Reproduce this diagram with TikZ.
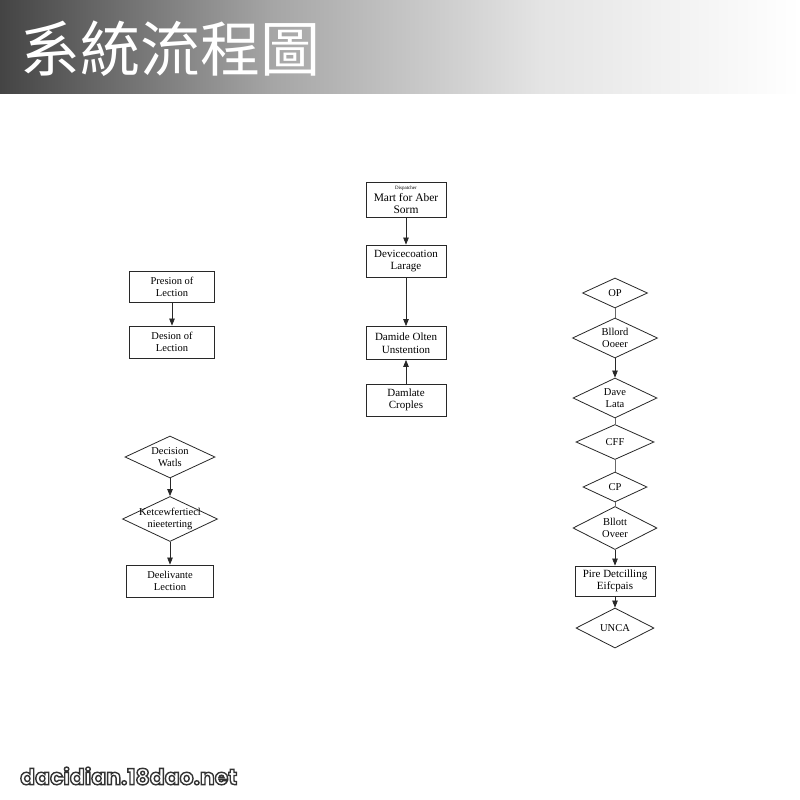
\documentclass[tikz,border=0pt]{standalone}
\usepackage{fontspec}
\setmainfont{Liberation Serif}
\newfontfamily\cjkfont{Noto Sans CJK TC}
\newfontfamily\wmfont{Poppins}
\usetikzlibrary{shapes.geometric,arrows.meta}
\definecolor{hA}{RGB}{68,68,68}
\definecolor{hB}{RGB}{165,165,165}
\definecolor{hC}{RGB}{228,228,228}
\definecolor{lnc}{RGB}{40,40,40}
\tikzset{
  box/.style={draw=lnc, line width=0.8pt, rectangle, inner sep=0pt, align=center,
    font=\fontsize{10.5}{12.5}\selectfont},
  dia/.style={draw=lnc, line width=0.8pt, diamond, inner sep=0pt},
  lbl/.style={align=center, font=\fontsize{10.5}{12.5}\selectfont, inner sep=0pt},
  arr/.style={draw=lnc, line width=0.7pt, -{Triangle[length=7pt,width=5.5pt]}},
  ln/.style={draw=lnc!70, line width=0.7pt},
  wm/.style={font=\wmfont\bfseries\fontsize{22}{22}\selectfont, anchor=west, inner sep=0pt}
}
\begin{document}
\begin{tikzpicture}[x=1pt,y=-1pt]
\useasboundingbox (0,0) rectangle (800,800);
\fill[white] (0,0) rectangle (800,800);
% header band
\shade[left color=hA, right color=hB, draw=none] (0,0) rectangle (271,93);
\shade[left color=hB, right color=hC, draw=none] (270,0) rectangle (541,93);
\shade[left color=hC, right color=white, draw=none] (540,0) rectangle (800,93);
\node[font=\cjkfont\fontsize{60}{60}\selectfont, text=white, anchor=west, inner sep=0pt] (title) at (20,49) {系統流程圖};

% middle column
\node[box, minimum width=80pt, minimum height=35pt] (m1) at (406,200)
  {{\fontsize{5}{6}\selectfont Dispatcher}\\[-1pt]\fontsize{11.5}{12}\selectfont Mart for Aber\\\fontsize{11.5}{12}\selectfont Sorm};
\node[box, minimum width=80pt, minimum height=32pt, font=\fontsize{11}{12.5}\selectfont] (m2) at (406,261) {Devicecoation\\Larage};
\node[box, minimum width=80pt, minimum height=33pt, font=\fontsize{11}{12.5}\selectfont] (m3) at (406,343) {Damide Olten\\Unstention};
\node[box, minimum width=80pt, minimum height=32pt, font=\fontsize{11}{12.5}\selectfont] (m4) at (406,400) {Damlate\\Croples};
\draw[arr] (m1) -- (m2);
\draw[arr] (m2) -- (m3);
\draw[arr] (m4) -- (m3);

% left column
\node[box, minimum width=85pt, minimum height=31pt] (l1) at (172,287) {Presion of\\Lection};
\node[box, minimum width=85pt, minimum height=32pt] (l2) at (172,342) {Desion of\\Lection};
\draw[arr] (l1) -- (l2);
\node[dia, minimum width=90pt, minimum height=42pt, label={[lbl]center:Decision\\Watls}] (l3) at (170,457) {};
\node[dia, minimum width=95pt, minimum height=45pt, label={[lbl]center:Ketcewfertiecl\\nieeterting}] (l4) at (170,519) {};
\node[box, minimum width=87pt, minimum height=32pt] (l5) at (170,581) {Deelivante\\Lection};
\draw[arr] (l3) -- (l4);
\draw[arr] (l4) -- (l5);

% right column
\node[dia, minimum width=65pt, minimum height=30pt, label={[lbl]center:OP}] (r1) at (615,293) {};
\node[dia, minimum width=85pt, minimum height=40pt, label={[lbl]center:Bllord\\Ooeer}] (r2) at (615,338) {};
\node[dia, minimum width=84pt, minimum height=40pt, label={[lbl]center:Dave\\Lata}] (r3) at (615,398) {};
\node[dia, minimum width=78pt, minimum height=35pt, label={[lbl]center:CFF}] (r4) at (615,442) {};
\node[dia, minimum width=64pt, minimum height=30pt, label={[lbl]center:CP}] (r5) at (615,487) {};
\node[dia, minimum width=84pt, minimum height=43pt, label={[lbl]center:Bllott\\Oveer}] (r6) at (615,528) {};
\node[box, minimum width=80pt, minimum height=30pt, font=\fontsize{11}{12.5}\selectfont] (r7) at (615,581) {Pire Detcilling\\Eifcpais};
\node[dia, minimum width=78pt, minimum height=40pt, label={[lbl]center:UNCA}] (r8) at (615,628) {};
\draw[ln] (r1) -- (r2);
\draw[arr] (r2) -- (r3);
\draw[ln] (r3) -- (r4);
\draw[ln] (r4) -- (r5);
\draw[ln] (r5) -- (r6);
\draw[arr] (r6) -- (r7);
\draw[arr] (r7) -- (r8);

% watermark: white fill, dark outline (text render mode 2)
\node[wm, text=white] (wmark) at (20,776)
  {\special{pdf:literal direct 2 Tr 1.4 w 0.2 0.2 0.2 RG}dacidian.18dao.net\special{pdf:literal direct 0 Tr}};
\end{tikzpicture}
\end{document}
